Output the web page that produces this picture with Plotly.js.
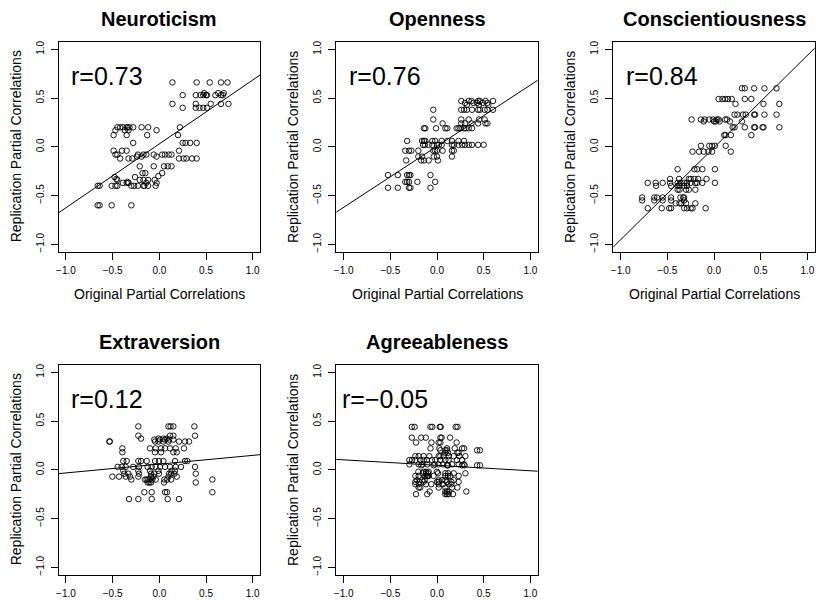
<!DOCTYPE html>
<html>
<head>
<meta charset="utf-8">
<script src="https://cdn.plot.ly/plotly-3.0.1.min.js"></script>
<style>
html,body{margin:0;padding:0;background:#fff;}
#chart{width:816px;height:600px;}
</style>
</head>
<body>
<div id="chart"></div>
<script>
// ---------------- data ----------------
const panelTitles = ["Neuroticism", "Openness", "Conscientiousness", "Extraversion", "Agreeableness"];
const rLabels = ["r=0.73", "r=0.76", "r=0.84", "r=0.12", "r=\u22120.05"];
const tickValues = [-1, -0.5, 0, 0.5, 1];
const xTitle = "Original Partial Correlations";
const yTitle = "Replication Partial Correlations";

// regression fits: [intercept, slope]
const fitIntercept = [0.03, 0.006, -0.008, 0.058, 0.046];
const fitSlope = [0.655, 0.627, 0.945, 0.09, -0.056];

const neuroX = [0.14,0.40,0.54,0.66,0.73,
0.25,0.39,0.44,0.47,0.48,0.50,0.51,0.60,0.63,0.66,0.68,0.69,
0.14,0.39,0.55,0.66,0.74,
0.25,0.39,0.43,0.47,0.51,
-0.45,-0.42,-0.39,-0.35,-0.34,-0.32,-0.28,-0.19,-0.12,0.22,
-0.47,-0.37,-0.33,-0.03,
-0.49,-0.35,-0.13,0.20,
-0.28,0.25,0.28,0.33,0.40,
-0.49,-0.40,-0.35,0.21,
-0.47,-0.45,-0.23,-0.17,-0.14,-0.06,0.03,0.06,0.10,0.13,
-0.42,-0.33,-0.29,-0.24,-0.19,-0.03,0.21,0.26,0.29,0.35,0.40,
-0.21,-0.06,0.05,0.09,0.13,
-0.18,-0.15,0.03,-0.01,
-0.48,-0.46,-0.45,-0.39,-0.35,-0.33,-0.34,-0.26,-0.21,-0.17,-0.12,-0.05,-0.03,-0.14,
-0.66,-0.64,-0.51,-0.47,-0.45,-0.30,-0.27,-0.23,-0.17,-0.12,-0.04,-0.16,
-0.66,-0.64,-0.51,-0.30];
const neuroY = [0.66,0.66,0.66,0.66,0.66,
0.53,0.53,0.53,0.53,0.55,0.53,0.53,0.53,0.55,0.53,0.53,0.55,
0.44,0.44,0.44,0.44,0.44,
0.40,0.40,0.40,0.40,0.40,
0.20,0.20,0.20,0.20,0.20,0.20,0.20,0.20,0.20,0.20,
0.17,0.17,0.17,0.17,
0.12,0.12,0.12,0.12,
0.04,0.04,0.04,0.04,0.04,
-0.04,-0.04,-0.04,-0.04,
-0.08,-0.08,-0.08,-0.08,-0.08,-0.08,-0.08,-0.08,-0.08,-0.08,
-0.12,-0.12,-0.12,-0.10,-0.10,-0.10,-0.12,-0.12,-0.12,-0.12,-0.12,
-0.20,-0.20,-0.20,-0.20,-0.20,
-0.27,-0.27,-0.27,-0.30,
-0.31,-0.33,-0.34,-0.37,-0.37,-0.37,-0.36,-0.31,-0.34,-0.34,-0.34,-0.34,-0.37,-0.37,
-0.40,-0.40,-0.40,-0.40,-0.40,-0.40,-0.40,-0.40,-0.40,-0.40,-0.40,-0.40,
-0.60,-0.60,-0.60,-0.60];

const openX = [0.26,0.34,0.37,0.44,0.46,0.52,0.60,
0.30,0.39,0.43,0.49,0.54,
0.32,0.45,0.55,
-0.04,0.26,0.29,0.32,0.375,0.44,0.46,0.51,0.54,0.60,
-0.04,0.26,0.34,0.45,0.51,
0.06,0.26,0.30,0.37,0.44,0.52,0.54,
-0.14,-0.125,-0.01,0.09,0.11,0.21,0.23,0.25,0.29,0.31,0.34,0.375,
-0.32,-0.16,-0.14,-0.125,-0.05,-0.02,0.05,0.11,0.16,0.23,0.29,
-0.15,-0.13,-0.09,-0.05,0.0,0.02,0.05,0.16,0.18,0.23,0.27,0.30,0.34,0.375,0.44,0.50,
-0.34,-0.30,-0.275,-0.20,-0.04,-0.02,0.0,0.06,0.16,0.18,
-0.20,-0.16,-0.035,0.0,0.16,
-0.33,-0.17,-0.14,-0.09,0.01,
-0.525,-0.42,-0.32,-0.30,-0.285,-0.07,
-0.34,-0.32,-0.30,-0.21,-0.02,
-0.525,-0.42,-0.30,-0.285,-0.07];
const openY = [0.47,0.47,0.47,0.47,0.47,0.47,0.47,
0.45,0.45,0.45,0.45,0.45,
0.43,0.43,0.43,
0.38,0.38,0.38,0.38,0.38,0.38,0.38,0.38,0.38,0.38,
0.28,0.28,0.28,0.28,0.28,
0.24,0.24,0.24,0.24,0.24,0.24,0.24,
0.19,0.19,0.19,0.19,0.19,0.19,0.19,0.19,0.19,0.19,0.19,0.19,
0.06,0.06,0.06,0.06,0.06,0.06,0.06,0.06,0.06,0.06,0.06,
0.02,0.02,0.02,0.02,0.02,0.02,0.02,0.02,0.02,0.02,0.02,0.02,0.02,0.02,0.02,0.02,
-0.04,-0.04,-0.04,-0.04,-0.04,-0.04,-0.04,-0.04,-0.04,-0.04,
-0.10,-0.10,-0.10,-0.10,-0.10,
-0.14,-0.14,-0.14,-0.14,-0.14,
-0.29,-0.29,-0.29,-0.29,-0.29,-0.29,
-0.36,-0.36,-0.36,-0.36,-0.36,
-0.42,-0.42,-0.42,-0.42,-0.42];

const consX = [0.30,0.33,0.43,0.54,0.67,
0.05,0.09,0.12,0.15,0.19,0.33,0.40,
0.23,0.53,0.70,
0.22,0.25,0.31,0.34,0.43,0.44,0.54,0.67,
-0.24,-0.14,-0.10,-0.05,-0.01,0.03,0.05,0.12,0.14,
-0.11,0.0,0.02,0.06,0.17,0.30,
0.20,0.22,0.33,0.43,0.44,0.52,0.53,0.70,
0.11,0.125,0.18,0.40,
-0.14,-0.05,-0.02,0.01,0.125,
-0.23,-0.16,-0.11,-0.06,-0.02,0.18,
-0.39,-0.21,-0.18,-0.125,0.01,
-0.47,-0.375,-0.27,-0.25,-0.21,-0.17,-0.08,
-0.71,-0.625,-0.55,-0.47,-0.39,-0.36,-0.32,-0.29,-0.25,-0.20,-0.18,-0.125,0.01,
-0.62,-0.46,-0.39,-0.37,-0.32,-0.29,
-0.39,-0.37,-0.30,-0.27,-0.20,
-0.77,-0.64,-0.61,-0.55,-0.46,-0.36,-0.33,-0.32,
-0.77,-0.64,-0.55,-0.46,-0.32,
-0.41,-0.37,-0.35,-0.30,-0.20,
-0.71,-0.56,-0.48,-0.46,-0.32,-0.29,-0.25,-0.23,-0.09];
const consY = [0.60,0.60,0.60,0.60,0.60,
0.49,0.49,0.49,0.49,0.49,0.49,0.49,
0.44,0.44,0.44,
0.33,0.33,0.33,0.33,0.33,0.33,0.33,0.33,
0.28,0.28,0.28,0.28,0.28,0.28,0.28,0.28,0.28,
0.26,0.26,0.26,0.26,0.26,0.26,
0.20,0.20,0.20,0.20,0.20,0.20,0.20,0.20,
0.12,0.12,0.12,0.12,
0.01,0.01,0.01,0.01,0.01,
-0.05,-0.05,-0.05,-0.05,-0.05,-0.05,
-0.23,-0.23,-0.23,-0.23,-0.23,
-0.33,-0.33,-0.33,-0.33,-0.33,-0.33,-0.33,
-0.37,-0.37,-0.37,-0.37,-0.37,-0.37,-0.37,-0.37,-0.37,-0.37,-0.37,-0.37,-0.37,
-0.40,-0.40,-0.40,-0.40,-0.40,-0.40,
-0.44,-0.44,-0.44,-0.44,-0.44,
-0.52,-0.52,-0.52,-0.52,-0.52,-0.52,-0.52,-0.52,
-0.55,-0.55,-0.55,-0.55,-0.55,
-0.58,-0.58,-0.58,-0.58,-0.58,
-0.63,-0.63,-0.63,-0.63,-0.63,-0.63,-0.63,-0.63,-0.63];

const extraX = [-0.225,0.097,0.12,0.15,0.375,
-0.225,0.114,0.15,0.382,
-0.196,-0.01,0.043,0.08,
-0.535,-0.53,-0.046,-0.01,0.043,0.097,0.21,0.275,0.318,
-0.054,0.007,0.061,0.104,0.15,
-0.396,-0.10,-0.039,0.018,0.061,0.114,0.175,0.264,
-0.396,-0.046,0.018,0.15,0.186,
-0.386,-0.35,-0.225,-0.196,-0.136,-0.046,-0.004,0.043,0.168,0.275,0.30,
-0.446,-0.403,-0.36,-0.28,-0.218,-0.125,-0.082,-0.039,0.007,0.061,0.114,0.175,0.232,0.382,
-0.386,-0.225,-0.10,-0.01,0.132,0.168,
-0.375,-0.332,-0.218,-0.089,-0.054,-0.004,0.104,0.125,0.161,0.39,
-0.503,-0.432,-0.36,-0.314,-0.225,-0.089,-0.064,0.097,0.186,
-0.30,-0.153,-0.136,-0.118,-0.10,-0.075,-0.039,0.054,0.082,0.125,0.568,
-0.125,-0.107,-0.089,0.05,0.39,
-0.161,-0.082,0.061,0.082,0.568,
-0.325,-0.225,-0.082,0.089,0.21];
const extraY = [0.445,0.445,0.445,0.445,0.445,
0.35,0.35,0.35,0.35,
0.32,0.32,0.32,0.32,
0.29,0.29,0.29,0.29,0.29,0.29,0.29,0.29,0.29,
0.31,0.31,0.31,0.31,0.31,
0.22,0.22,0.22,0.22,0.22,0.22,0.22,0.22,
0.18,0.18,0.18,0.18,0.18,
0.09,0.09,0.09,0.09,0.09,0.09,0.09,0.09,0.09,0.09,0.09,
0.03,0.03,0.03,0.03,0.03,0.03,0.03,0.03,0.03,0.03,0.03,0.03,0.03,0.03,
-0.01,-0.01,-0.01,-0.01,-0.01,-0.01,
-0.04,-0.04,-0.04,-0.04,-0.04,-0.04,-0.04,-0.04,-0.04,-0.04,
-0.07,-0.07,-0.07,-0.07,-0.07,-0.07,-0.07,-0.07,-0.07,
-0.10,-0.10,-0.10,-0.10,-0.10,-0.10,-0.10,-0.10,-0.10,-0.10,-0.10,
-0.13,-0.13,-0.13,-0.13,-0.13,
-0.23,-0.23,-0.23,-0.23,-0.23,
-0.30,-0.30,-0.30,-0.30,-0.30];

const agreeX = [-0.27,-0.24,-0.07,-0.05,0.03,0.04,0.20,0.22,
-0.27,-0.17,-0.12,0.036,0.05,0.14,
-0.225,-0.06,0.018,0.036,0.21,
-0.07,0.025,0.107,0.19,0.27,0.29,
0.036,0.09,0.107,0.43,0.46,
0.09,0.118,0.218,0.232,
-0.232,-0.196,-0.143,-0.082,0.018,0.036,0.071,0.125,0.179,0.239,0.304,
-0.296,-0.268,-0.232,-0.179,-0.143,-0.107,-0.054,-0.018,0.036,0.089,0.125,0.214,0.268,
-0.296,-0.196,-0.154,-0.104,-0.025,0.018,0.064,0.161,0.232,0.286,
-0.168,-0.036,0.107,0.118,0.268,0.296,0.43,0.46,
-0.20,-0.143,-0.118,-0.089,0.0,
-0.154,-0.118,-0.096,0.011,0.089,0.118,0.179,0.304,
-0.232,-0.196,-0.125,-0.107,-0.096,-0.089,-0.036,0.089,0.118,0.143,0.232,
-0.214,-0.161,-0.132,0.018,0.054,0.089,0.179,
-0.232,-0.189,-0.143,0.0,0.018,0.107,0.154,0.232,
-0.232,-0.196,-0.118,-0.061,0.018,0.064,0.125,0.154,
-0.196,-0.179,0.018,0.089,0.161,0.218,
-0.079,0.089,0.107,0.125,0.314,
-0.225,-0.104,0.089,0.107,0.125,0.171];
const agreeY = [0.44,0.44,0.44,0.44,0.44,0.44,0.44,0.44,
0.33,0.33,0.33,0.33,0.33,0.33,
0.28,0.28,0.28,0.28,0.28,
0.22,0.22,0.22,0.22,0.22,0.22,
0.20,0.20,0.20,0.20,0.20,
0.175,0.175,0.175,0.175,
0.14,0.14,0.14,0.14,0.14,0.14,0.14,0.14,0.14,0.14,0.14,
0.10,0.10,0.10,0.10,0.10,0.10,0.10,0.10,0.10,0.10,0.10,0.10,0.10,
0.056,0.056,0.056,0.056,0.056,0.056,0.056,0.056,0.056,0.056,
0.046,0.046,0.046,0.046,0.046,0.046,0.046,0.046,
-0.02,-0.02,-0.02,-0.02,-0.02,
-0.036,-0.036,-0.036,-0.036,-0.036,-0.036,-0.036,-0.036,
-0.063,-0.063,-0.063,-0.063,-0.063,-0.063,-0.063,-0.063,-0.063,-0.063,-0.063,
-0.107,-0.107,-0.107,-0.107,-0.107,-0.107,-0.107,
-0.124,-0.124,-0.124,-0.124,-0.124,-0.124,-0.124,-0.124,
-0.148,-0.148,-0.148,-0.148,-0.148,-0.148,-0.148,-0.148,
-0.182,-0.182,-0.182,-0.182,-0.182,-0.182,
-0.223,-0.223,-0.223,-0.223,-0.223,
-0.25,-0.25,-0.25,-0.25,-0.25,-0.25];

const seriesX = [neuroX, openX, consX, extraX, agreeX];
const seriesY = [neuroY, openY, consY, extraY, agreeY];

// ---------------- layout geometry (pixels) ----------------
const W = 816, H = 600;
const FONT = "Liberation Sans, Arial, Helvetica, sans-serif";
const colBox = [[58.5, 260.2], [336.2, 537.8], [613.2, 814.8]];
const rowBox = [[41.5, 252.1], [364.5, 575.1]];
const AX_RANGE = [-1.08, 1.08];

const layout = {
  width: W, height: H,
  margin: {l: 0, r: 0, t: 0, b: 0, pad: 0},
  paper_bgcolor: "#ffffff", plot_bgcolor: "#ffffff",
  showlegend: false,
  font: {family: FONT, color: "#000"},
  annotations: []
};
const traces = [];

function axisBase() {
  return {
    range: AX_RANGE, tickvals: tickValues, tickformat: ".1f",
    ticks: "outside", ticklen: 7, tickwidth: 1, tickcolor: "#000",
    showline: true, mirror: true, linecolor: "#000", linewidth: 1,
    showgrid: false, zeroline: false, fixedrange: true,
    tickfont: {family: FONT, size: 10, color: "#000"}
  };
}

for (let i = 0; i < 5; i++) {
  const col = i % 3, row = Math.floor(i / 3);
  const xs = i === 0 ? "" : String(i + 1);
  const [l, r] = colBox[col];
  const [t, b] = rowBox[row];
  const xa = axisBase();
  xa.domain = [l / W, r / W];
  xa.anchor = "y" + xs;
  xa.ticklabelstandoff = 2;
  const ya = axisBase();
  ya.domain = [1 - b / H, 1 - t / H];
  ya.anchor = "x" + xs;
  ya.tickangle = -90;
  ya.ticklabelstandoff = 3;
  layout["xaxis" + xs] = xa;
  layout["yaxis" + xs] = ya;

  traces.push({
    type: "scatter", mode: "markers",
    x: seriesX[i], y: seriesY[i],
    xaxis: "x" + xs, yaxis: "y" + xs,
    marker: {symbol: "circle-open", size: 5.5, color: "#000", line: {width: 0.9, color: "#000"}},
    hoverinfo: "x+y"
  });
  const lx = [AX_RANGE[0], AX_RANGE[1]];
  traces.push({
    type: "scatter", mode: "lines",
    x: lx, y: lx.map(v => fitIntercept[i] + fitSlope[i] * v),
    xaxis: "x" + xs, yaxis: "y" + xs,
    line: {color: "#000", width: 1}, hoverinfo: "skip"
  });

  // panel title
  layout.annotations.push({
    xref: "paper", yref: "paper", x: (l + r) / 2 / W, y: 1 - (t - 23) / H,
    xanchor: "center", yanchor: "middle", showarrow: false,
    text: "<b>" + panelTitles[i] + "</b>", font: {family: FONT, size: 20, color: "#000"}
  });
  // r label
  layout.annotations.push({
    xref: "x" + xs, yref: "y" + xs, x: -0.56, y: 0.73,
    xanchor: "center", yanchor: "middle", showarrow: false,
    text: rLabels[i], font: {family: FONT, size: 25, color: "#000"}
  });
  // x axis title (only the top row's titles fall inside the picture)
  if (b + 42 < H) {
    layout.annotations.push({
      xref: "paper", yref: "paper", x: (l + r) / 2 / W, y: 1 - (b + 42) / H,
      xanchor: "center", yanchor: "middle", showarrow: false,
      text: xTitle, font: {family: FONT, size: 14, color: "#000"}
    });
  }
  // y axis title
  layout.annotations.push({
    xref: "paper", yref: "paper", x: (l - 43) / W, y: 1 - ((t + b) / 2) / H,
    xanchor: "center", yanchor: "middle", showarrow: false, textangle: -90,
    text: yTitle, font: {family: FONT, size: 14, color: "#000"}
  });
}

Plotly.newPlot("chart", traces, layout, {displayModeBar: false, staticPlot: true});
</script>
</body>
</html>
